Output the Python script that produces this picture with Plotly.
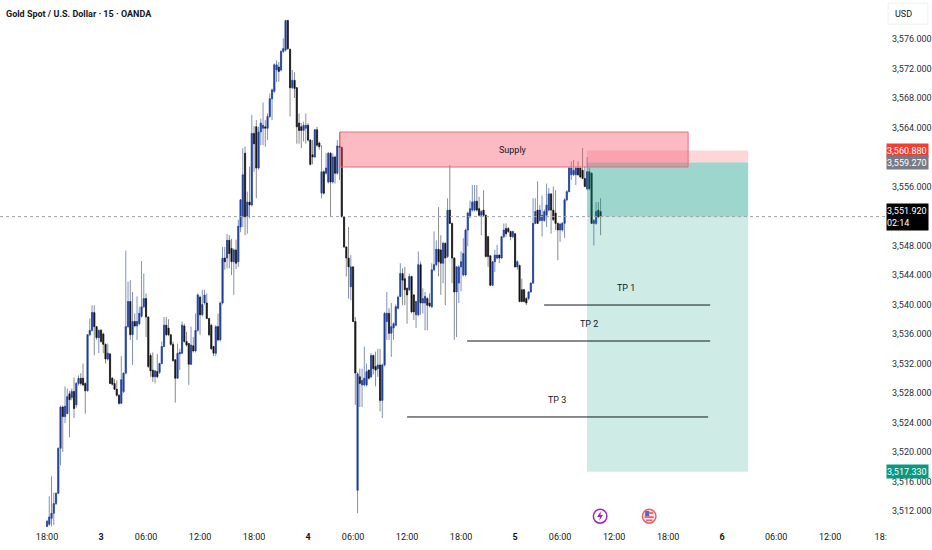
import plotly.graph_objs as go

# 15 minute bars, one entry per bar
opens = [
    3509.9, 3510.2, 3511.0, 3511.7, 3513.0, 3514.4, 3520.5, 3526.1, 3524.8, 3525.2,
    3527.9, 3527.4, 3528.2, 3526.4, 3529.3, 3530.0, 3530.0, 3529.3, 3528.3, 3535.9,
    3536.5, 3538.9, 3537.0, 3535.5, 3536.5, 3536.0, 3534.6, 3532.6, 3533.3, 3530.0,
    3529.3, 3528.5, 3527.7, 3526.6, 3528.2, 3530.7, 3537.0, 3540.4, 3535.9, 3537.7,
    3537.1, 3537.4, 3538.4, 3539.7, 3540.8, 3538.3, 3533.1, 3531.1, 3530.2, 3530.9,
    3530.8, 3532.0, 3534.3, 3537.2, 3536.8, 3535.9, 3534.6, 3532.5, 3530.0, 3533.3,
    3533.4, 3537.1, 3535.0, 3534.7, 3531.9, 3534.4, 3533.7, 3536.5, 3541.0, 3538.6,
    3540.2, 3540.2, 3538.1, 3537.2, 3534.3, 3533.4, 3537.0, 3535.2, 3540.2, 3546.3,
    3546.3, 3548.7, 3547.6, 3545.8, 3547.4, 3545.8, 3550.5, 3551.9, 3560.5, 3551.9,
    3553.9, 3553.5, 3563.2, 3564.1, 3558.5, 3563.4, 3563.9, 3564.1, 3563.9, 3565.5,
    3567.9, 3568.9, 3571.8, 3572.2, 3571.8, 3574.3, 3574.5, 3578.5, 3574.6, 3569.4,
    3570.4, 3569.4, 3564.6, 3564.1, 3563.6, 3563.9, 3564.3, 3562.3, 3560.3, 3560.0,
    3563.7, 3561.9, 3555.1, 3558.0, 3557.8, 3556.6, 3560.5, 3556.6, 3560.0, 3557.8,
    3561.5, 3561.3, 3551.9, 3547.8, 3546.3, 3542.4, 3545.1, 3537.7, 3514.8, 3530.2,
    3529.1, 3529.1, 3529.1, 3531.1, 3530.2, 3533.1, 3531.6, 3531.3, 3531.8, 3527.0,
    3531.8, 3537.7, 3538.8, 3536.1, 3536.8, 3537.2, 3539.5, 3541.1, 3544.2, 3543.5,
    3542.2, 3542.0, 3543.8, 3541.3, 3538.6, 3538.6, 3545.4, 3540.2, 3540.2, 3540.8,
    3540.2, 3539.7, 3544.7, 3545.4, 3547.5, 3547.4, 3545.6, 3548.3, 3546.5, 3552.8,
    3551.0, 3546.3, 3541.7, 3542.9, 3545.1, 3544.0, 3544.0, 3550.1, 3551.9, 3552.8,
    3552.8, 3554.0, 3553.0, 3552.1, 3552.8, 3552.1, 3549.2, 3546.6, 3542.6, 3545.8,
    3546.3, 3546.7, 3546.3, 3549.2, 3550.3, 3550.3, 3549.9, 3549.2, 3549.6, 3545.1,
    3545.3, 3542.0, 3542.0, 3540.8, 3540.8, 3541.7, 3542.9, 3551.0, 3552.8, 3551.4,
    3551.4, 3551.4, 3552.1, 3552.8, 3555.0, 3552.8, 3552.4, 3551.0, 3550.1, 3550.1,
    3551.0, 3554.2, 3555.3, 3557.6, 3557.6, 3557.6, 3558.5, 3558.5, 3558.2, 3557.1,
    3555.7, 3558.0, 3557.8, 3551.0, 3551.0, 3552.8, 3552.6,
]
highs = [
    3510.8, 3514.0, 3516.7, 3514.5, 3514.5, 3520.6, 3526.3, 3526.3, 3528.9, 3528.6,
    3528.3, 3528.6, 3530.1, 3529.5, 3530.4, 3530.7, 3532.0, 3529.4, 3536.0, 3538.1,
    3539.9, 3539.9, 3537.1, 3536.6, 3536.7, 3536.2, 3534.7, 3534.7, 3533.4, 3530.2,
    3529.9, 3529.7, 3527.8, 3533.0, 3530.8, 3547.3, 3543.1, 3543.3, 3541.7, 3538.8,
    3541.1, 3539.7, 3545.9, 3544.2, 3541.5, 3538.4, 3533.4, 3533.5, 3531.1, 3533.3,
    3532.1, 3535.0, 3538.3, 3538.3, 3538.0, 3536.0, 3535.0, 3532.6, 3534.7, 3534.0,
    3537.7, 3537.4, 3536.3, 3534.8, 3537.0, 3535.6, 3538.8, 3541.5, 3541.2, 3542.0,
    3542.0, 3541.5, 3538.2, 3537.4, 3534.4, 3537.2, 3538.8, 3540.4, 3547.8, 3547.8,
    3549.6, 3549.4, 3548.9, 3547.6, 3548.8, 3551.5, 3554.3, 3561.2, 3561.4, 3555.3,
    3558.7, 3565.7, 3564.2, 3565.0, 3564.1, 3565.2, 3567.4, 3565.0, 3565.9, 3568.6,
    3569.3, 3572.7, 3573.1, 3572.9, 3574.5, 3576.1, 3578.6, 3578.6, 3574.7, 3571.8,
    3571.5, 3569.5, 3565.9, 3564.6, 3564.8, 3565.9, 3564.6, 3562.4, 3562.3, 3563.8,
    3564.1, 3562.1, 3561.6, 3558.2, 3560.5, 3560.7, 3560.7, 3560.5, 3560.2, 3562.3,
    3563.4, 3561.4, 3552.0, 3547.9, 3550.5, 3546.7, 3545.2, 3538.3, 3530.8, 3531.3,
    3531.3, 3534.3, 3532.0, 3531.2, 3533.4, 3533.2, 3533.6, 3534.0, 3534.0, 3532.0,
    3539.0, 3541.7, 3539.5, 3540.2, 3537.6, 3540.0, 3541.2, 3545.6, 3544.9, 3545.1,
    3542.3, 3544.2, 3543.9, 3541.4, 3540.5, 3547.2, 3545.8, 3542.2, 3541.7, 3541.0,
    3541.5, 3545.6, 3549.9, 3548.7, 3553.2, 3549.4, 3548.5, 3548.4, 3554.4, 3558.9,
    3551.1, 3546.4, 3545.2, 3545.3, 3547.2, 3549.0, 3550.3, 3552.6, 3554.1, 3556.2,
    3556.2, 3556.2, 3554.6, 3552.8, 3555.5, 3552.2, 3549.3, 3546.7, 3545.9, 3547.4,
    3548.1, 3546.8, 3549.3, 3551.0, 3551.0, 3550.5, 3550.0, 3550.0, 3549.7, 3546.0,
    3545.4, 3543.5, 3542.1, 3541.0, 3541.8, 3543.0, 3554.4, 3554.4, 3556.7, 3553.5,
    3554.8, 3552.9, 3556.4, 3555.8, 3555.1, 3556.0, 3555.5, 3551.1, 3551.1, 3551.2,
    3554.4, 3555.5, 3558.7, 3559.4, 3559.6, 3558.7, 3559.4, 3558.6, 3561.2, 3558.7,
    3560.0, 3558.5, 3557.9, 3551.6, 3553.9, 3553.9, 3554.4,
]
lows = [
    3509.8, 3510.0, 3509.9, 3510.1, 3512.8, 3514.3, 3518.2, 3520.0, 3523.9, 3525.2,
    3522.0, 3527.0, 3524.6, 3526.0, 3529.0, 3529.0, 3528.9, 3525.2, 3528.2, 3535.7,
    3536.3, 3533.1, 3535.2, 3533.4, 3534.8, 3533.4, 3532.0, 3532.4, 3529.2, 3529.0,
    3528.4, 3527.5, 3526.4, 3526.5, 3528.0, 3530.5, 3536.8, 3535.2, 3531.8, 3536.9,
    3535.2, 3537.2, 3538.2, 3539.5, 3535.6, 3531.4, 3530.2, 3529.5, 3529.3, 3530.0,
    3530.6, 3531.9, 3534.2, 3535.7, 3535.7, 3534.4, 3532.2, 3526.7, 3529.9, 3531.1,
    3533.3, 3534.8, 3534.3, 3529.1, 3531.8, 3533.5, 3533.5, 3536.3, 3535.9, 3538.4,
    3540.0, 3538.0, 3535.7, 3533.8, 3533.0, 3533.0, 3535.0, 3535.0, 3540.0, 3544.7,
    3544.9, 3544.9, 3544.0, 3541.3, 3544.8, 3545.1, 3549.8, 3550.5, 3549.4, 3549.6,
    3551.7, 3553.3, 3558.0, 3554.4, 3558.3, 3561.6, 3561.6, 3561.4, 3562.3, 3565.3,
    3565.0, 3568.7, 3570.2, 3570.2, 3571.6, 3574.1, 3574.3, 3574.5, 3565.5, 3569.2,
    3568.0, 3561.8, 3561.8, 3561.2, 3562.1, 3561.8, 3562.1, 3558.9, 3559.0, 3559.9,
    3561.4, 3561.0, 3554.4, 3554.9, 3557.6, 3556.4, 3551.9, 3556.4, 3556.4, 3557.6,
    3556.9, 3551.8, 3547.7, 3543.8, 3540.8, 3540.6, 3537.6, 3526.4, 3511.7, 3526.1,
    3526.1, 3528.9, 3528.9, 3529.8, 3530.0, 3530.5, 3528.9, 3530.2, 3525.5, 3524.6,
    3531.6, 3535.2, 3535.2, 3532.9, 3535.2, 3537.0, 3539.3, 3541.0, 3539.9, 3539.9,
    3537.4, 3541.8, 3538.8, 3537.9, 3536.8, 3538.4, 3538.6, 3538.8, 3536.5, 3536.5,
    3539.6, 3539.5, 3544.5, 3545.2, 3543.8, 3541.3, 3542.9, 3539.9, 3546.3, 3550.9,
    3542.9, 3535.2, 3535.6, 3540.2, 3541.8, 3543.8, 3543.8, 3547.9, 3551.7, 3552.6,
    3552.6, 3552.6, 3551.9, 3549.4, 3551.9, 3546.4, 3545.1, 3542.5, 3542.5, 3544.4,
    3546.1, 3545.6, 3546.2, 3549.0, 3549.2, 3549.7, 3548.7, 3549.0, 3545.0, 3544.7,
    3540.3, 3540.3, 3540.3, 3539.9, 3540.6, 3541.6, 3542.8, 3550.9, 3550.9, 3551.2,
    3549.2, 3551.2, 3550.5, 3552.6, 3549.6, 3551.3, 3550.1, 3546.0, 3548.5, 3549.9,
    3549.0, 3554.0, 3555.2, 3556.9, 3557.4, 3556.2, 3557.4, 3557.1, 3557.0, 3555.9,
    3555.5, 3555.5, 3550.9, 3548.0, 3550.8, 3551.7, 3549.4,
]
closes = [
    3510.6, 3511.2, 3511.7, 3513.0, 3514.4, 3520.5, 3526.1, 3524.8, 3526.2, 3527.5,
    3527.1, 3528.2, 3525.9, 3529.3, 3530.0, 3529.3, 3529.1, 3528.3, 3535.9, 3536.5,
    3538.9, 3537.0, 3535.5, 3536.5, 3535.0, 3534.6, 3532.6, 3533.4, 3529.3, 3529.2,
    3528.5, 3527.7, 3526.6, 3529.8, 3530.7, 3537.0, 3540.4, 3535.9, 3537.7, 3537.1,
    3537.7, 3538.8, 3539.7, 3540.8, 3538.3, 3531.6, 3531.0, 3530.2, 3531.0, 3530.2,
    3532.0, 3534.3, 3537.2, 3535.9, 3535.9, 3534.6, 3532.4, 3530.0, 3533.4, 3533.5,
    3537.2, 3535.0, 3534.5, 3531.9, 3534.5, 3533.7, 3536.5, 3541.3, 3538.6, 3540.0,
    3541.3, 3538.1, 3535.9, 3534.0, 3533.4, 3537.0, 3535.2, 3540.2, 3546.3, 3545.8,
    3548.7, 3546.9, 3545.8, 3547.4, 3545.6, 3550.6, 3554.2, 3557.6, 3551.9, 3553.9,
    3553.5, 3563.2, 3561.8, 3558.5, 3563.4, 3564.6, 3564.3, 3563.9, 3565.5, 3567.9,
    3569.1, 3572.5, 3572.5, 3571.6, 3574.3, 3574.7, 3578.5, 3574.7, 3569.4, 3570.4,
    3569.3, 3564.1, 3563.6, 3563.6, 3564.3, 3564.3, 3562.3, 3559.0, 3560.0, 3563.7,
    3561.6, 3561.4, 3558.0, 3555.1, 3558.5, 3560.5, 3556.6, 3560.0, 3557.8, 3561.5,
    3561.3, 3551.9, 3547.8, 3546.3, 3545.1, 3545.1, 3537.7, 3530.7, 3530.6, 3529.3,
    3529.7, 3530.0, 3530.9, 3530.0, 3533.1, 3531.3, 3531.1, 3531.8, 3527.0, 3531.8,
    3538.8, 3538.8, 3536.1, 3537.0, 3537.4, 3539.7, 3541.0, 3544.2, 3543.3, 3542.0,
    3541.3, 3543.8, 3539.0, 3539.0, 3540.4, 3545.4, 3540.2, 3540.8, 3541.1, 3539.9,
    3539.8, 3544.7, 3545.4, 3547.5, 3545.8, 3545.6, 3548.3, 3546.3, 3552.8, 3551.0,
    3546.3, 3541.7, 3545.1, 3545.1, 3545.8, 3546.9, 3550.1, 3552.4, 3553.0, 3553.9,
    3554.0, 3552.8, 3552.1, 3552.6, 3552.1, 3546.5, 3546.5, 3542.6, 3545.8, 3546.7,
    3546.7, 3546.3, 3549.2, 3550.1, 3549.6, 3549.9, 3549.2, 3549.9, 3545.1, 3545.8,
    3540.4, 3540.4, 3540.4, 3540.2, 3541.7, 3542.9, 3551.0, 3552.6, 3551.0, 3552.8,
    3552.1, 3552.6, 3553.5, 3555.0, 3552.8, 3551.5, 3551.0, 3550.1, 3550.9, 3551.0,
    3554.2, 3555.3, 3558.5, 3558.5, 3558.2, 3558.5, 3557.6, 3557.3, 3557.1, 3556.0,
    3558.0, 3555.7, 3551.0, 3551.4, 3552.6, 3551.9, 3551.9,
]
bars = list(range(len(closes)))

tick_bars = [0, 24, 44, 68, 92, 116, 136, 160, 184, 208, 228, 252, 276, 300, 324, 348, 370.5]
tick_labels = ['18:00', '<b>3</b>', '06:00', '12:00', '18:00', '<b>4</b>', '06:00', '12:00', '18:00',
               '<b>5</b>', '06:00', '12:00', '18:00', '<b>6</b>', '06:00', '12:00', '18:']
price_ticks = [3576, 3572, 3568, 3564, 3556, 3548, 3544, 3540, 3536, 3532, 3528, 3524, 3520, 3516, 3512]

stop_price = 3560.88
entry_price = 3559.27
last_price = 3551.92
target_price = 3517.33

FONT = 'Roboto'
TEXT = '#131722'


def text_note(x, y, text, size=9, color=TEXT, **kw):
    return dict(x=x, y=y, text=text, showarrow=False, yanchor='middle',
                font=dict(family=FONT, size=size, color=color), **kw)


def badge(y, text, color, height=13):
    return dict(xref='paper', x=1, xshift=1, xanchor='left', y=y, text=text, showarrow=False, align='left',
                bgcolor=color, width=41, height=height, borderpad=0,
                font=dict(family=FONT, size=9, color='white'))


fig = go.Figure()

# thin wicks are lighter than the bodies in the screenshot, so they get their own trace
fig.add_trace(go.Candlestick(x=bars, open=opens, high=highs, low=lows, close=closes,
                             increasing=dict(line=dict(color='#7f90c4', width=1), fillcolor='#7f90c4'),
                             decreasing=dict(line=dict(color='#8c8c8c', width=1), fillcolor='#8c8c8c'),
                             hoverinfo='skip'))
fig.add_trace(go.Candlestick(x=bars, open=opens, close=closes,
                             high=[max(o, c) for o, c in zip(opens, closes)],
                             low=[min(o, c) for o, c in zip(opens, closes)],
                             increasing=dict(line=dict(color='#1f3f9c', width=0.5), fillcolor='#1f3f9c'),
                             decreasing=dict(line=dict(color='#101010', width=0.5), fillcolor='#101010'),
                             hoverinfo='skip'))

shapes = [
    # short position tool
    dict(type='rect', x0=240, x1=311.6, y0=entry_price, y1=stop_price, fillcolor='rgba(242,54,69,0.2)', line_width=0),
    dict(type='rect', x0=240, x1=311.6, y0=target_price, y1=entry_price, fillcolor='rgba(8,153,129,0.2)', line_width=0),
    dict(type='rect', x0=240, x1=311.6, y0=last_price, y1=entry_price, fillcolor='rgba(8,153,129,0.25)', line_width=0),
    # supply zone
    dict(type='rect', x0=130.2, x1=284.9, y0=3558.64, y1=3563.39, fillcolor='rgba(247,82,105,0.4)',
         line=dict(color='#e5707f', width=1)),
    # take profit lines
    dict(type='line', x0=220.9, x1=294.7, y0=3539.93, y1=3539.93, line=dict(color=TEXT, width=1)),
    dict(type='line', x0=186.7, x1=294.7, y0=3535.05, y1=3535.05, line=dict(color=TEXT, width=1)),
    dict(type='line', x0=160, x1=293.8, y0=3524.75, y1=3524.75, line=dict(color=TEXT, width=1)),
    # last price line
    dict(type='line', xref='paper', x0=0, x1=1, y0=last_price, y1=last_price,
         line=dict(color='#a0a3aa', width=1, dash='dot')),
    # USD box
    dict(type='rect', xref='paper', yref='paper', x0=1.0035, x1=1.0485, y0=0.954, y1=0.994, fillcolor='white',
         line=dict(color='#eef0f5', width=1)),
    # event icons
    dict(type='circle', x0=242.8, x1=248.8, y0=3510.35, y1=3512.25, fillcolor='white',
         line=dict(color='#9c27b0', width=1.5)),
    dict(type='path', path='M246.2,3512.0 L244.4,3511.18 L245.8,3511.18 L245.3,3510.64 L247.1,3511.46 L245.9,3511.46 Z',
         fillcolor='#9c27b0', line_width=0),
    dict(type='circle', x0=264.6, x1=270.6, y0=3510.35, y1=3512.25, fillcolor='#fbe3e5',
         line=dict(color='#ef5f6b', width=1.5)),
    dict(type='rect', x0=265.8, x1=267.6, y0=3511.3, y1=3512.0, fillcolor='#3f6fd8', line_width=0),
    dict(type='rect', x0=267.6, x1=269.4, y0=3511.6, y1=3511.85, fillcolor='#ef5f6b', line_width=0),
    dict(type='rect', x0=265.6, x1=269.6, y0=3511.05, y1=3511.3, fillcolor='#ef5f6b', line_width=0),
    dict(type='rect', x0=266.2, x1=269.0, y0=3510.65, y1=3510.85, fillcolor='#ef5f6b', line_width=0),
]

annotations = [
    text_note(0.005, 0.973, '<b>Gold Spot / U.S. Dollar · 15 · OANDA</b>', xref='paper', yref='paper', xanchor='left'),
    text_note(1.0095, 0.974, 'USD', xref='paper', yref='paper', xanchor='left'),
    text_note(207.1, 3560.9, 'Supply'),
    text_note(257.4, 3542.2, 'TP 1'),
    text_note(240.9, 3537.3, 'TP 2'),
    text_note(226.7, 3527.0, 'TP 3'),
    badge(stop_price, '3,560.880', '#f23f33'),
    badge(entry_price, '3,559.270', '#787b86'),
    badge(last_price - 0.1, '3,551.920<br>02:14', '#000000', height=26),
    badge(target_price, '3,517.330', '#089981'),
]

fig.update_layout(width=932, height=550, margin=dict(l=0, r=47, t=0, b=23), paper_bgcolor='white', plot_bgcolor='white',
                  showlegend=False, boxgap=0.3, shapes=shapes, annotations=annotations,
                  font=dict(family=FONT, size=9, color=TEXT))
fig.update_xaxes(range=[-20.9, 372.4], rangeslider_visible=False, showgrid=False, zeroline=False, showline=False,
                 automargin=False, tickmode='array', tickvals=tick_bars, ticktext=tick_labels, ticks='',
                 ticklabelstandoff=3, tickfont=dict(family=FONT, size=9, color=TEXT))
fig.update_yaxes(range=[3509.83, 3581.29], side='right', showgrid=False, zeroline=False, showline=False,
                 automargin=False, tickmode='array', tickvals=price_ticks,
                 ticktext=[f'{p:,.3f}' for p in price_ticks], ticks='',
                 ticklabelstandoff=6, tickfont=dict(family=FONT, size=9, color='#2a2e39'))

fig.write_html("out.html", config={'displayModeBar': False}, post_script="document.body.style.margin='0'")
